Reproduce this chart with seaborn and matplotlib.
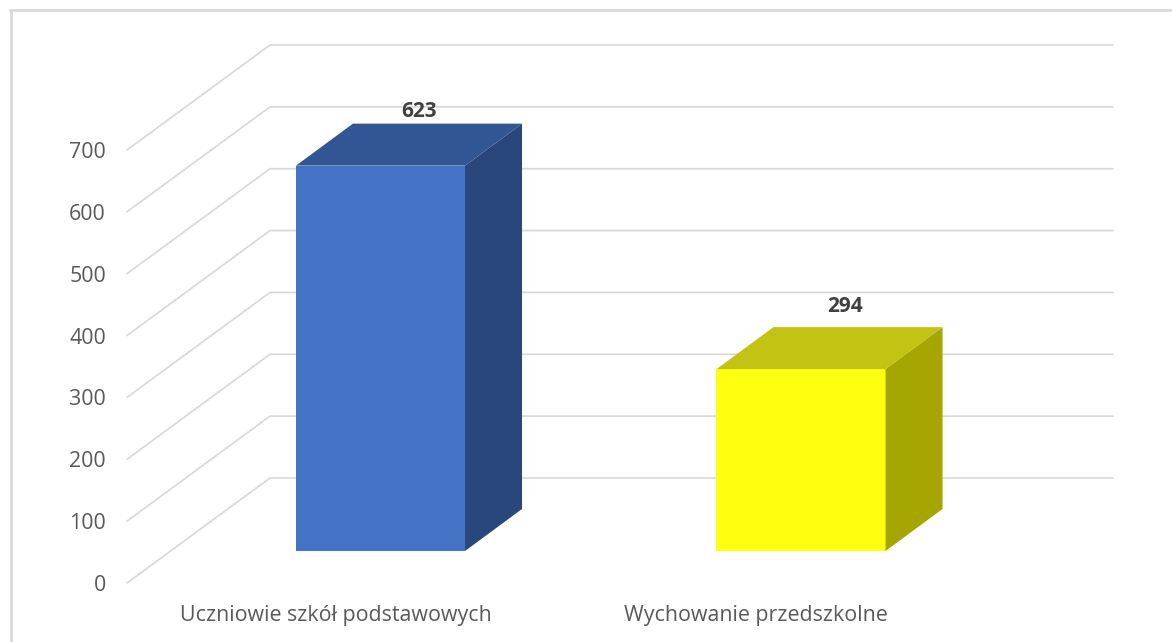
import matplotlib
matplotlib.use("Agg")
import matplotlib.pyplot as plt
import seaborn as sns
from matplotlib.lines import Line2D
from matplotlib.transforms import ScaledTranslation

categories = ["Uczniowie szkół podstawowych", "Wychowanie przedszkolne"]
values = [623, 294]
y_ticks = [0, 100, 200, 300, 400, 500, 600, 700]
front_colors = ["#4472C4", "#FFFF10"]
side_colors = ["#29477B", "#A6A600"]
top_colors = ["#325594", "#C3C314"]

# tekst w Open Sans, reszta stylu jak w Excelu
sns.set_theme(style="white")
plt.rcParams["font.family"] = ["Open Sans", "DejaVu Sans"]

W, H, DPI = 1172, 642, 100
fig = plt.figure(figsize=(W / DPI, H / DPI), dpi=DPI, facecolor="white")

# os w pikselach: y=0 na wysokosci 551, 700 na 118, slupki co 420.5 px
left, right, bottom, top = 120, 1113, 551, 118
ax = fig.add_axes([left / W, 1 - bottom / H, (right - left) / W, (bottom - top) / H])

sns.barplot(x=categories, y=values, hue=categories, palette=front_colors, saturation=1,
            width=0.402, legend=False, linewidth=0, ax=ax, zorder=3)

ax.set_xlim((left - 380.5) / 420.5, (right - 380.5) / 420.5)
ax.set_ylim(0, 700)
px_x = 1 / 420.5
px_y = 700 / (bottom - top)


def to_x(px):
    return (px - 380.5) * px_x


# siatka 3D: sciana tylna i lewa
for v in y_ticks:
    ax.plot([to_x(127), to_x(270), to_x(1113)],
            [v - 32 * px_y, v + 73 * px_y, v + 73 * px_y],
            color="#D9D9D9", lw=1.25, clip_on=False, zorder=1, solid_joinstyle="miter")

# boki i wierzch slupkow
dx, dy = 57 * px_x, 42 * px_y
half = 0.402 / 2
for i, v in enumerate(values):
    xl, xr = i - half, i + half
    ax.fill([xr, xr + dx, xr + dx, xr], [0, dy, v + dy, v], color=side_colors[i], lw=0, zorder=3, clip_on=False)
    ax.fill([xl, xl + dx, xr + dx, xr], [v, v + dy, v + dy, v], color=top_colors[i], lw=0, zorder=3, clip_on=False)

# etykiety wartosci przesuniete jak w oryginale
label_offsets = [(38.5, 54.5), (44, 62.5)]
for i, v in enumerate(values):
    ox, oy = label_offsets[i]
    ax.annotate(str(v), (i, v), xytext=(ox * 72 / DPI, oy * 72 / DPI), textcoords="offset points",
                ha="center", va="center", fontsize=15, fontweight="bold", color="#404040",
                annotation_clip=False, zorder=5)

sns.despine(ax=ax, left=True, bottom=True)
ax.set_xlabel("")
ax.set_ylabel("")
ax.set_yticks(y_ticks)
ax.set_yticklabels([str(t) for t in y_ticks])
ax.set_xticks([0, 1])
ax.set_xticklabels(categories)
ax.tick_params(axis="both", length=0, labelsize=15.4, labelcolor="#595959")
ax.tick_params(axis="y", pad=0)

for lab in ax.get_yticklabels():
    lab.set_transform(lab.get_transform() + ScaledTranslation(-14 / DPI, -32 / DPI, fig.dpi_scale_trans))
for lab in ax.get_xticklabels():
    lab.set_transform(lab.get_transform() + ScaledTranslation(-45 / DPI, -49.5 / DPI, fig.dpi_scale_trans))

# ramka wykresu: tylko gora i lewa strona widoczne
fig.add_artist(Line2D([10.7 / W, 10.7 / W], [0, 1 - 9.7 / H], color="#D9D9D9", lw=2))
fig.add_artist(Line2D([9.7 / W, 1], [1 - 9.7 / H, 1 - 9.7 / H], color="#D9D9D9", lw=2))

fig.savefig("out.png", dpi=DPI)
